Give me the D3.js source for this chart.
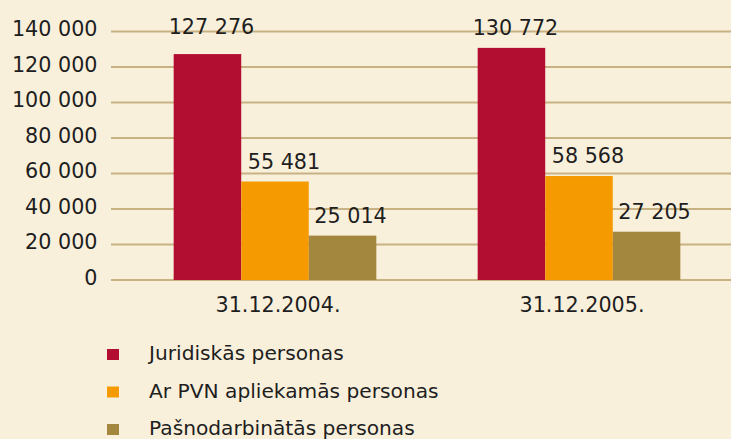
<!DOCTYPE html>
<html><head><meta charset="utf-8">
<script src="https://cdn.jsdelivr.net/npm/d3@7"></script>
<style>
html,body{margin:0;padding:0;background:#f9f0dc;}
svg{display:block;}
text{font-family:"DejaVu Sans",Verdana,sans-serif;fill:#1e1e1e;}
</style></head>
<body>
<script>
const categories = ["31.12.2004.", "31.12.2005."];
const seriesNames = ["Juridiskās personas", "Ar PVN apliekamās personas", "Pašnodarbinātās personas"];
const seriesColors = ["#b10e32", "#f59a00", "#a3873f"];
const juridiskas = [127276, 130772];
const arPVN = [55481, 58568];
const pasnodarbinatas = [25014, 27205];
const tickValues = [0, 20000, 40000, 60000, 80000, 100000, 120000, 140000];

const series = [juridiskas, arPVN, pasnodarbinatas];
const W = 731, H = 439;
const fmt = v => d3.format(",")(v).replace(/,/g, " ");

const svg = d3.select("body").append("svg").attr("width", W).attr("height", H);
svg.append("rect").attr("width", W).attr("height", H).attr("fill", "#f9f0dc");

const y = d3.scaleLinear().domain([0, 140000]).range([280, 31.5]);
const x0 = d3.scaleBand().domain(categories).range([123, 731]).paddingInner(1/3).paddingOuter(1/6);
const x1 = d3.scaleBand().domain(d3.range(series.length)).range([0, x0.bandwidth()]);

// gridlines
svg.append("g").selectAll("line").data(tickValues).join("line")
  .attr("x1", 111).attr("x2", W)
  .attr("y1", d => y(d)).attr("y2", d => y(d))
  .attr("stroke", "#c8b283").attr("stroke-width", 2);

// y axis labels
const yAxis = d3.axisLeft(y).tickValues(tickValues).tickFormat(fmt).tickSize(0).tickPadding(0);
const ya = svg.append("g").attr("transform", "translate(97.5,0)").call(yAxis);
ya.select(".domain").remove();
ya.selectAll("text").attr("font-size", 20.7).attr("font-family", "DejaVu Sans").attr("fill", "#1e1e1e").attr("dy", "0.2em");

// bars
const labelDx = [4, 9, 8];
const g = svg.append("g");
categories.forEach((c, ci) => {
  series.forEach((s, si) => {
    const bx = x0(c) + x1(si);
    g.append("rect")
      .attr("x", bx).attr("y", y(s[ci]))
      .attr("width", x1.bandwidth()).attr("height", y(0) - y(s[ci]))
      .attr("fill", seriesColors[si]);
    const off = (si === 0 && ci === 0) ? 20 : 13;
    g.append("text")
      .attr("x", bx + x1.bandwidth() / 2 + labelDx[si])
      .attr("y", y(s[ci]) - off)
      .attr("text-anchor", "middle").attr("font-size", 20.7)
      .text(fmt(s[ci]));
  });
});

// category labels
svg.append("g").selectAll("text").data(categories).join("text")
  .attr("x", d => x0(d) + x0.bandwidth() / 2 + 3)
  .attr("y", 312).attr("text-anchor", "middle").attr("font-size", 20.7)
  .text(d => d);

// legend
const lg = svg.append("g").selectAll("g").data(seriesNames).join("g")
  .attr("transform", (d, i) => `translate(107,${349 + i * 37.5})`);
lg.append("rect").attr("width", 12).attr("height", 11).attr("fill", (d, i) => seriesColors[i]);
lg.append("text").attr("x", 42).attr("y", 11).attr("font-size", 20.2).text(d => d);
</script>
</body></html>
